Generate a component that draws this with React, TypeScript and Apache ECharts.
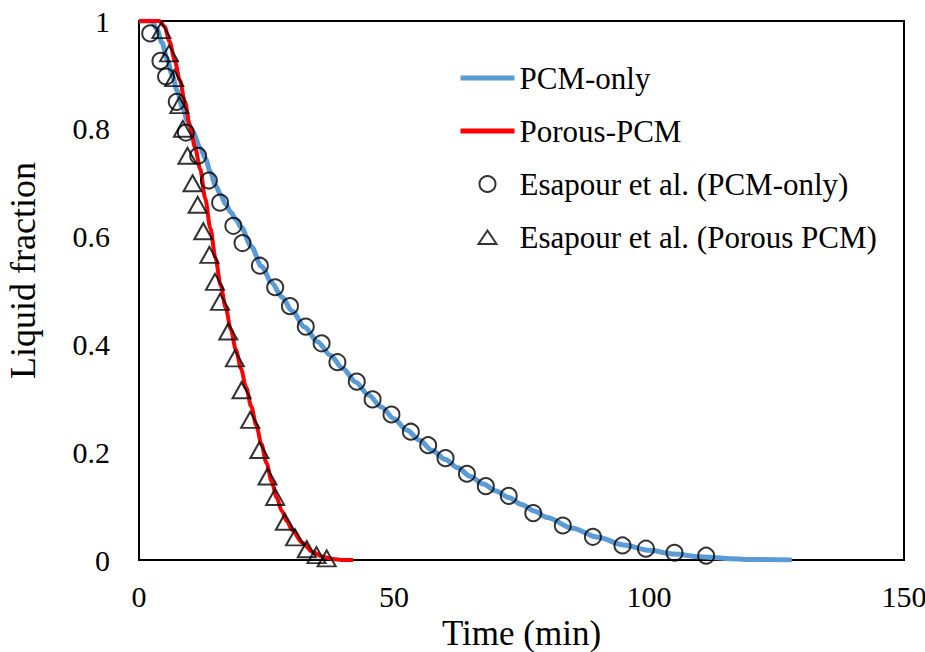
import React, { useEffect, useRef } from "react";
import * as echarts from "echarts";

const FONT = "'Liberation Serif', 'Times New Roman', serif";

// PCM-only simulation (time in min, liquid fraction)
const pcmOnlyTime = [0, 2.5, 3.5, 4.5, 5.5, 6.5, 7.5, 8.5, 9.5, 10.5, 12, 13, 14, 15, 16, 17, 18, 19, 20, 22, 24, 26, 28, 30, 32.5, 35, 37.5, 40, 42.5, 45, 47.5, 50, 52.5, 55, 57.5, 60, 62.5, 65, 67.5, 70, 72.5, 75, 77.5, 80, 85, 90, 95, 100, 105, 110, 115, 120, 128];
const pcmOnlyValue = [1, 1, 0.985, 0.96, 0.93, 0.9, 0.87, 0.84, 0.815, 0.795, 0.765, 0.745, 0.72, 0.695, 0.678, 0.66, 0.645, 0.632, 0.618, 0.582, 0.545, 0.515, 0.488, 0.462, 0.432, 0.405, 0.38, 0.355, 0.33, 0.306, 0.284, 0.262, 0.241, 0.222, 0.203, 0.187, 0.171, 0.155, 0.141, 0.128, 0.116, 0.103, 0.091, 0.079, 0.059, 0.042, 0.028, 0.018, 0.011, 0.006, 0.003, 0.001, 0];

// Porous-PCM simulation
const porousTime = [0, 4, 5, 6, 7, 8, 9, 10, 11, 12, 13, 14, 15, 16, 17, 18, 19, 20, 21, 22, 23, 24, 25, 26, 27, 28, 29, 30, 32, 34, 36, 38, 40, 42];
const porousValue = [1, 1, 0.99, 0.962, 0.927, 0.89, 0.85, 0.805, 0.765, 0.725, 0.67, 0.615, 0.56, 0.51, 0.468, 0.428, 0.39, 0.355, 0.32, 0.285, 0.25, 0.215, 0.18, 0.146, 0.116, 0.091, 0.072, 0.056, 0.032, 0.015, 0.006, 0.002, 0, 0];

// Esapour et al. (PCM-only) experimental points
const expPcmTime = [2.2, 4.2, 5.3, 7.4, 9.2, 11.6, 13.7, 15.9, 18.5, 20.3, 23.7, 26.7, 29.6, 32.7, 35.8, 38.9, 42.7, 45.8, 49.5, 53.3, 56.7, 60.1, 64.3, 68.0, 72.5, 77.3, 83.1, 89.0, 94.8, 99.4, 105.0, 111.2];
const expPcmValue = [0.977, 0.926, 0.897, 0.85, 0.793, 0.75, 0.704, 0.663, 0.62, 0.588, 0.546, 0.506, 0.471, 0.433, 0.402, 0.367, 0.331, 0.298, 0.27, 0.238, 0.213, 0.189, 0.16, 0.137, 0.119, 0.087, 0.064, 0.043, 0.027, 0.021, 0.0135, 0.008];

// Esapour et al. (Porous PCM) experimental points
const expPorousTime = [4.4, 5.9, 6.9, 7.9, 8.6, 9.5, 10.5, 11.5, 12.6, 13.8, 14.9, 15.9, 17.5, 18.8, 20.1, 21.8, 23.6, 25.2, 26.7, 28.6, 30.6, 32.9, 34.8, 36.8];
const expPorousValue = [0.983, 0.94, 0.894, 0.844, 0.8, 0.75, 0.699, 0.659, 0.61, 0.566, 0.516, 0.479, 0.424, 0.374, 0.315, 0.26, 0.204, 0.155, 0.117, 0.071, 0.042, 0.02, 0.009, 0.003];

const seriesNames = ["PCM-only", "Porous-PCM", "Esapour et al. (PCM-only)", "Esapour et al. (Porous PCM)"];

const zip = (a: number[], b: number[]) => a.map((v, i) => [v, b[i]]);

export default function App() {
  const ref = useRef<HTMLDivElement>(null);
  useEffect(() => {
    if (!ref.current) return;
    const chart = echarts.init(ref.current, null, { renderer: "svg" });
    chart.setOption({
      animation: false,
      backgroundColor: "#fff",
      grid: {
        left: 139,
        top: 21,
        right: 21,
        bottom: 92,
        outerBoundsMode: "none",
        containLabel: false,
        show: true,
        borderColor: "#000",
        borderWidth: 2,
      },
      legend: {
        orient: "vertical",
        left: 458,
        top: 62,
        padding: 0,
        itemWidth: 54,
        itemHeight: 16,
        itemGap: 21,
        data: [
          { name: seriesNames[0], itemStyle: { opacity: 0 }, lineStyle: { width: 5 } },
          { name: seriesNames[1], itemStyle: { opacity: 0 }, lineStyle: { width: 5 } },
          { name: seriesNames[2] },
          {
            name: seriesNames[3],
            icon: "path://M0,0 M54,16 M27,1.5 L36,15 L18,15 Z",
          },
        ],
        textStyle: { fontFamily: FONT, fontSize: 31, color: "#000", lineHeight: 32 },
      },
      xAxis: {
        type: "value",
        min: 0,
        max: 150,
        interval: 50,
        name: "Time (min)",
        nameLocation: "middle",
        nameGap: 46,
        nameTextStyle: { fontFamily: FONT, fontSize: 35, color: "#000", lineHeight: 36 },
        axisLine: { show: true, lineStyle: { color: "#000", width: 2 } },
        axisTick: { show: false },
        splitLine: { show: false },
        axisLabel: { fontFamily: FONT, fontSize: 30, color: "#000", margin: 21 },
      },
      yAxis: {
        type: "value",
        min: 0,
        max: 1,
        interval: 0.2,
        name: "Liquid fraction",
        nameLocation: "middle",
        nameGap: 98,
        nameRotate: 90,
        nameTextStyle: { fontFamily: FONT, fontSize: 36, color: "#000", padding: [0, 0, 0, 40] },
        axisLine: { show: true, lineStyle: { color: "#000", width: 2 } },
        axisTick: { show: false },
        splitLine: { show: false },
        axisLabel: {
          fontFamily: FONT,
          fontSize: 30,
          color: "#000",
          margin: 29,
          formatter: (v: number) => String(Math.round(v * 10) / 10),
        },
      },
      series: [
        {
          name: seriesNames[0],
          type: "line",
          data: zip(pcmOnlyTime, pcmOnlyValue),
          symbol: "none",
          showSymbol: false,
          smooth: 0.3,
          smoothMonotone: "x",
          lineStyle: { color: "#5B9BD5", width: 5 },
          itemStyle: { color: "#5B9BD5" },
          z: 2,
        },
        {
          name: seriesNames[1],
          type: "line",
          data: zip(porousTime, porousValue),
          symbol: "none",
          showSymbol: false,
          smooth: 0.3,
          smoothMonotone: "x",
          lineStyle: { color: "#FF0000", width: 4 },
          itemStyle: { color: "#FF0000" },
          z: 3,
        },
        {
          name: seriesNames[2],
          type: "scatter",
          data: zip(expPcmTime, expPcmValue),
          symbol: "circle",
          symbolSize: 16,
          symbolKeepAspect: true,
          itemStyle: { color: "rgba(0,0,0,0)", borderColor: "#000", borderWidth: 2 },
          z: 4,
        },
        {
          name: seriesNames[3],
          type: "scatter",
          data: zip(expPorousTime, expPorousValue),
          symbol: "triangle",
          symbolSize: [18, 16],
          symbolKeepAspect: true,
          itemStyle: { color: "rgba(0,0,0,0)", borderColor: "#000", borderWidth: 2 },
          z: 5,
        },
      ],
    });
    return () => chart.dispose();
  }, []);
  return <div ref={ref} style={{ width: 925, height: 652, position: "absolute", left: 0, top: 0 }} />;
}
